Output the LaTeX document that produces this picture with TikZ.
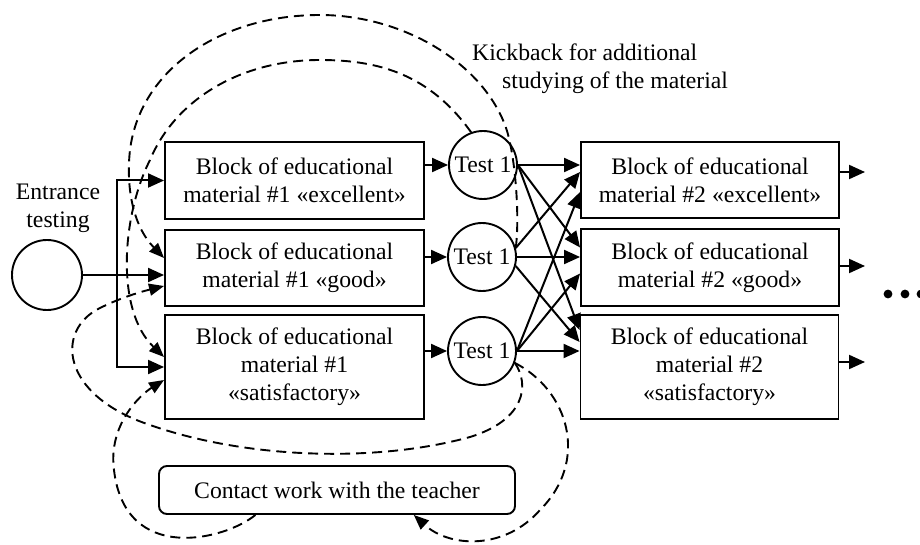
\documentclass[tikz,border=0pt]{standalone}
\usepackage{fontspec}
\setmainfont{Liberation Serif}
\usetikzlibrary{arrows.meta,calc}

\tikzset{
  blk/.style={draw,line width=1.9pt,minimum width=259pt,align=center,inner sep=2pt},
  tst/.style={draw,circle,line width=1.9pt,minimum size=68pt,inner sep=0pt},
  arr/.style={line width=2pt,-{Triangle[length=16pt,width=14pt]}},
  kick/.style={line width=1.9pt,dash pattern=on 10pt off 6pt,-{Triangle[length=15pt,width=12pt]}}
}

\begin{document}
\begin{tikzpicture}[x=1pt,y=-1pt,font=\fontsize{23.7}{28}\selectfont]
\useasboundingbox (0,0) rectangle (920,545);
%%Entrance
\node[draw,circle,line width=1.9pt,minimum size=70pt,inner sep=0pt] (entr) at (47,275) {};
\node[align=center,inner sep=0pt] (entrlbl) at (58,208) {Entrance\\testing};
\coordinate (split) at (117,275);

%%Blocks #1
\node[blk,minimum height=77pt] (b1) at (294.5,180.5) {Block of educational\\material \#1 «excellent»};
\node[blk,minimum height=76pt] (b2) at (294.5,268) {Block of educational\\material \#1 «good»};
\node[blk,minimum height=104pt] (b3) at (294.5,367) {Block of educational\\material \#1\\«satisfactory»};

%%Tests
\node[tst] (t1) at (483,165) {Test 1};
\node[tst] (t2) at (482,257) {Test 1};
\node[tst] (t3) at (482,351) {Test 1};

%%Blocks #2
\node[blk,minimum width=258pt,minimum height=76pt] (r1) at (710,180) {Block of educational\\material \#2 «excellent»};
\node[blk,minimum width=258pt,minimum height=77pt] (r2) at (710,267.5) {Block of educational\\material \#2 «good»};
\node[blk,minimum width=258pt,minimum height=104pt] (r3) at (709.5,367) {Block of educational\\material \#2\\«satisfactory»};
\coordinate (o1) at (865,172);
\coordinate (o2) at (865,266);
\coordinate (o3) at (865,362);

%%Teacher
\node[draw,rounded corners=8pt,line width=1.9pt,minimum width=356pt,minimum height=48pt] (teach) at (337,490) {Contact work with the teacher};

%%Label
\node[align=left,inner sep=0pt,anchor=west] (kicklbl) at (472,68.7) {Kickback for additional\\\hspace*{30pt}studying of the material};

%%Entrance arrows
\draw[arr] (entr) -- (b2.west |- entr);
\draw[arr] (split) |- (b1.west);
\draw[arr] (split) |- (b3.west);

%%Block to test
\draw[arr] (b1.east |- t1) -- (t1);
\draw[arr] (b2.east |- t2) -- (t2);
\draw[arr] (b3.east |- t3) -- (t3);

%%Test to next blocks
\draw[arr] (t1) -- (r1.west |- t1);
\draw[arr] (t1.east) -- ($(r2.west)+(0,-20)$);
\draw[arr] (t1.east) -- ($(r3.west)+(0,-37)$);
\draw[arr] (t2.15) -- ($(r1.west)+(0,-8)$);
\draw[arr] (t2) -- (r2.west |- t2);
\draw[arr] (t2.-15) -- ($(r3.west)+(0,-25)$);
\draw[arr] (t3.east) -- ($(r1.west)+(0,12)$);
\draw[arr] (t3.east) -- ($(r2.west)+(0,6)$);
\draw[arr] (t3) -- (r3.west |- t3);

%%Outputs
\draw[arr] (r1.east |- o1) -- (o1);
\draw[arr] (r2.east |- o2) -- (o2);
\draw[arr] (r3.east |- o3) -- (o3);
\foreach \x in {888,905,921}
  \fill (\x,294) circle (4.4pt);

%%Kickback
\draw[kick] (t2.15) .. controls (520,215) and (515,151) .. (505,125)
  .. controls (480,60) and (400,15) .. (320,15)
  .. controls (220,15) and (140,70) .. (130,150)
  .. controls (126,185) and (132,225) .. ($(b2.west)+(0,-10)$);
\draw[kick] (t1.110) .. controls (430,75) and (380,60) .. (320,60)
  .. controls (240,60) and (175,100) .. (150,160)
  .. controls (122,215) and (115,310) .. ($(b3.west)+(0,-10)$);
\draw[kick] (t3.-20) .. controls (530,385) and (525,420) .. (470,437)
  .. controls (380,462) and (250,460) .. (150,425)
  .. controls (60,395) and (55,330) .. (100,308)
  .. controls (120,298) and (140,292) .. ($(b2.west)+(0,18)$);
\draw[kick] (teach.197) .. controls (225,540) and (125,565) .. (114,470)
  .. controls (108,425) and (140,395) .. ($(b3.west)+(0,13)$);
\draw[kick] (t3.-20) .. controls (568,390) and (590,460) .. (540,510)
  .. controls (505,550) and (450,548) .. (teach.-18);
\end{tikzpicture}
\end{document}
